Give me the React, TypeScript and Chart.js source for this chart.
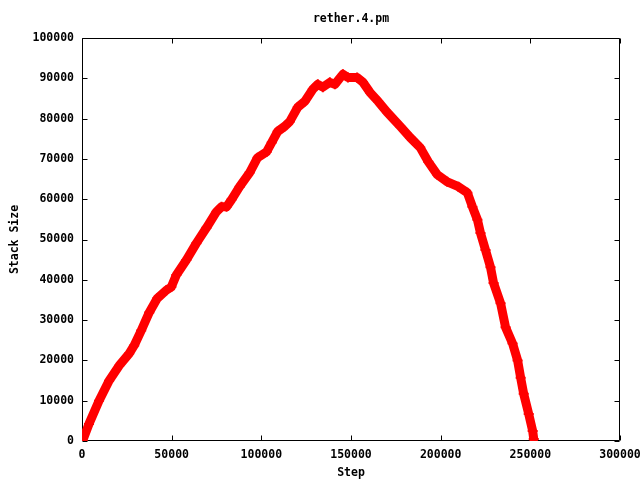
import React, { useEffect, useRef } from "react";
import { Chart, registerables } from "chart.js";

Chart.register(...registerables);

const TITLE = "rether.4.pm";
const X_LABEL = "Step";
const Y_LABEL = "Stack Size";

const steps = [
  300, 3900, 9500, 15100, 20700, 26300, 29100, 33000, 37500, 42000, 47000, 49800,
  52600, 58200, 63800, 69400, 75000, 77800, 80600, 83400, 87900, 93500, 97900,
  103000, 105800, 109100, 113100, 115900, 120300, 124300, 128700, 131500, 134300,
  138200, 141000, 145500, 148300, 153400, 156700, 160600, 165100, 170100, 177400,
  183000, 188600, 193100, 198100, 203700, 209900, 214900, 217700, 220500, 222200,
  225000, 227800, 229500, 233400, 236200, 240100, 242900, 244600, 246300, 249100,
  251300, 251900,
];
const stackSize = [
  0, 4240, 9980, 14960, 18700, 21700, 23700, 27400, 31900, 35400, 37400, 38200,
  41200, 44900, 49100, 52900, 56900, 58100, 58100, 59900, 63100, 66600, 70300,
  71800, 74100, 76800, 78100, 79300, 82800, 84300, 87300, 88500, 87800,
  89000, 88500, 91000, 90200, 90200, 89000, 86500, 84300, 81600, 78100,
  75300, 72800, 69300, 66100, 64300, 63100, 61600, 58100, 54900, 51600,
  47400, 43100, 39200, 34200, 28200, 24200, 20000, 15700, 11700, 6700,
  2500, 500,
];

const X_MIN = 0;
const X_MAX = 300000;
const X_STEP = 50000;
const Y_MIN = 0;
const Y_MAX = 100000;
const Y_STEP = 10000;

const FONT_FAMILY = "'DejaVu Sans Mono', 'Liberation Mono', monospace";

const framePlugin = {
  id: "gnuplotFrame",
  beforeDatasetsDraw(chart: any) {
    const { ctx, chartArea } = chart;
    const { left, right, top, bottom } = chartArea;
    const L = Math.round(left) + 0.5;
    const R = Math.round(right) - 0.5;
    const T = Math.round(top) + 0.5;
    const B = Math.round(bottom) - 0.5;
    ctx.save();
    ctx.strokeStyle = "#000";
    ctx.lineWidth = 1;
    ctx.beginPath();
    ctx.rect(L, T, R - L, B - T);
    const tl = 5;
    const xs = chart.scales.x;
    xs.ticks.forEach((_t: any, i: number) => {
      const px = Math.round(xs.getPixelForTick(i)) + 0.5;
      ctx.moveTo(px, B);
      ctx.lineTo(px, B - tl);
      ctx.moveTo(px, T);
      ctx.lineTo(px, T + tl);
    });
    const ys = chart.scales.y;
    ys.ticks.forEach((_t: any, i: number) => {
      const py = Math.round(ys.getPixelForTick(i)) + 0.5;
      ctx.moveTo(L, py);
      ctx.lineTo(L + tl, py);
      ctx.moveTo(R, py);
      ctx.lineTo(R - tl, py);
    });
    ctx.stroke();
    ctx.restore();
  },
};

export default function App() {
  const ref = useRef<HTMLCanvasElement | null>(null);

  useEffect(() => {
    if (!ref.current) return;
    const font = { family: FONT_FAMILY, size: 11.5, weight: "bold" as const };
    const chart = new Chart(ref.current, {
      type: "scatter",
      data: {
        datasets: [
          {
            label: TITLE,
            data: steps.map((s, i) => ({ x: s, y: stackSize[i] })),
            showLine: true,
            borderColor: "#ff0000",
            backgroundColor: "#ff0000",
            borderWidth: 9,
            borderJoinStyle: "round",
            borderCapStyle: "round",
            pointStyle: "cross",
            pointRadius: 5,
            pointBorderWidth: 2,
            pointBorderColor: "#ff0000",
            tension: 0,
          },
        ],
      },
      options: {
        animation: false,
        responsive: false,
        layout: { padding: { left: 0, right: 20, top: 0, bottom: 0 } },
        plugins: {
          legend: { display: false },
          tooltip: { enabled: false },
          title: {
            display: true,
            text: TITLE,
            color: "#000",
            font,
            fullSize: false,
            padding: { top: 12.5, bottom: 11.7 },
          },
        },
        scales: {
          x: {
            type: "linear",
            min: X_MIN,
            max: X_MAX,
            grid: { display: false, drawTicks: false },
            border: { display: false },
            ticks: {
              stepSize: X_STEP,
              autoSkip: false,
              maxRotation: 0,
              padding: 7.5,
              color: "#000",
              font,
              callback: (v: any) => String(v),
            },
            title: {
              display: true,
              text: X_LABEL,
              color: "#000",
              font,
              padding: { top: 0, bottom: 0 },
            },
            afterFit: (s: any) => {
              s.height = 39;
              s.paddingLeft = 0;
              s.paddingRight = 0;
            },
          },
          y: {
            type: "linear",
            min: Y_MIN,
            max: Y_MAX,
            grid: { display: false, drawTicks: false },
            border: { display: false },
            ticks: {
              stepSize: Y_STEP,
              autoSkip: false,
              padding: 8,
              color: "#000",
              font,
              callback: (v: any) => String(v),
            },
            title: {
              display: true,
              text: Y_LABEL,
              color: "#000",
              font,
              padding: { top: 8, bottom: 0 },
            },
            afterFit: (s: any) => {
              s.width = 82;
              s.paddingTop = 0;
              s.paddingBottom = 0;
            },
          },
        },
      },
      plugins: [framePlugin],
    });
    return () => chart.destroy();
  }, []);

  return (
    <div style={{ position: "fixed", left: 0, top: 0, width: 640, height: 480, background: "#fff" }}>
      <canvas ref={ref} width={640} height={480} style={{ display: "block" }} />
    </div>
  );
}
